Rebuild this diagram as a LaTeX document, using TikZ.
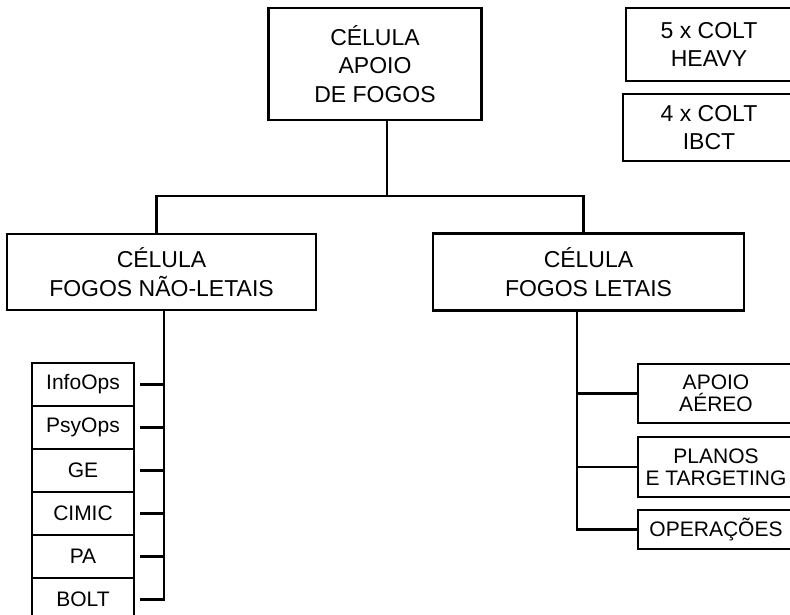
\documentclass[tikz,border=0pt]{standalone}
\usepackage{fontspec}
\setmainfont{Liberation Sans}
\usetikzlibrary{positioning}
\def\Apoio{CÉLULA\\APOIO\\DE FOGOS}
\def\NaoLetais{CÉLULA\\FOGOS NÃO-LETAIS}
\def\Letais{CÉLULA\\FOGOS LETAIS}
\def\Heavy{5 x COLT\\HEAVY}
\def\Ibct{4 x COLT\\IBCT}
\def\InfoOps{InfoOps}
\def\PsyOps{PsyOps}
\def\Guerra{GE}
\def\Cimic{CIMIC}
\def\PubAff{PA}
\def\Bolt{BOLT}
\def\Aereo{APOIO\\AÉREO}
\def\Planos{PLANOS\\E TARGETING}
\def\Operacoes{OPERAÇÕES}
\newcommand{\branch}[2]{\draw ([xshift=12pt]#1.south) -- ++(0,-76pt) -| ([xshift=-5pt]#2.north)}
\newcommand{\member}[2]{\draw ([xshift=6pt]#1.east) -- (#1.east -| #2)}
\newcommand{\duty}[2]{\draw (#1.west) -- (#1.west -| #2)}
\begin{document}
\begin{tikzpicture}[x=1pt, y=1pt,
                    line width=2.4pt,
                    box/.style={
                        draw,
                        line width=2.4pt,
                        outer sep=0pt,
                        inner sep=2pt,
                        align=center
                    },
                    cell/.style={box, font=\fontsize{23}{28.5}\selectfont},
                    task/.style={
                        box,
                        font=\fontsize{21}{25}\selectfont,
                        minimum width=102pt,
                        minimum height=43pt
                    },
                    lethal/.style={
                        box,
                        font=\fontsize{21}{22}\selectfont,
                        minimum width=156pt
                    },
                    level 1/.style={
                        level distance=208pt,
                        sibling distance=427pt,
                        edge from parent/.style={draw=none}
                    }]
    \useasboundingbox (0,0) rectangle (790,-614);

    \node[cell, minimum width=213pt, minimum height=112pt] (apoio) at (375,-64) {\Apoio}
        child { node[cell, minimum width=309pt, minimum height=76pt] (naoletais) {\NaoLetais} }
        child { node[cell, minimum width=311pt, minimum height=77pt] (letais) {\Letais} };

    \node[cell, minimum width=166pt, minimum height=73pt] (heavy) at (709,-44.5) {\Heavy};
    \node[cell, minimum width=172pt, minimum height=67pt] (ibct) at (709,-127.5) {\Ibct};

    \node[task] (infoops) at (83,-384.5) {\InfoOps};
    \node[task, below=0pt of infoops] (psyops) {\PsyOps};
    \node[task, below=0pt of psyops] (ge) {\Guerra};
    \node[task, below=0pt of ge] (cimic) {\Cimic};
    \node[task, below=0pt of cimic] (pa) {\PubAff};
    \node[task, below=0pt of pa] (bolt) {\Bolt};

    \node[lethal, minimum height=59pt] (aereo) at (716,-393.5) {\Aereo};
    \node[lethal, minimum height=60pt] (planos) at (716,-467) {\Planos};
    \node[lethal, minimum height=39pt] (operacoes) at (716,-529.5) {\Operacoes};

    \branch{apoio}{naoletais};
    \branch{apoio}{letais};

    \coordinate (nlbus) at ([xshift=2.5pt]naoletais.south);
    \draw (nlbus) |- ([xshift=6pt]bolt.east);
    \member{infoops}{nlbus};
    \member{psyops}{nlbus};
    \member{ge}{nlbus};
    \member{cimic}{nlbus};
    \member{pa}{nlbus};

    \coordinate (lbus) at ([xshift=-11.5pt]letais.south);
    \draw (lbus) |- (operacoes.west);
    \duty{aereo}{lbus};
    \duty{planos}{lbus};
\end{tikzpicture}
\end{document}
